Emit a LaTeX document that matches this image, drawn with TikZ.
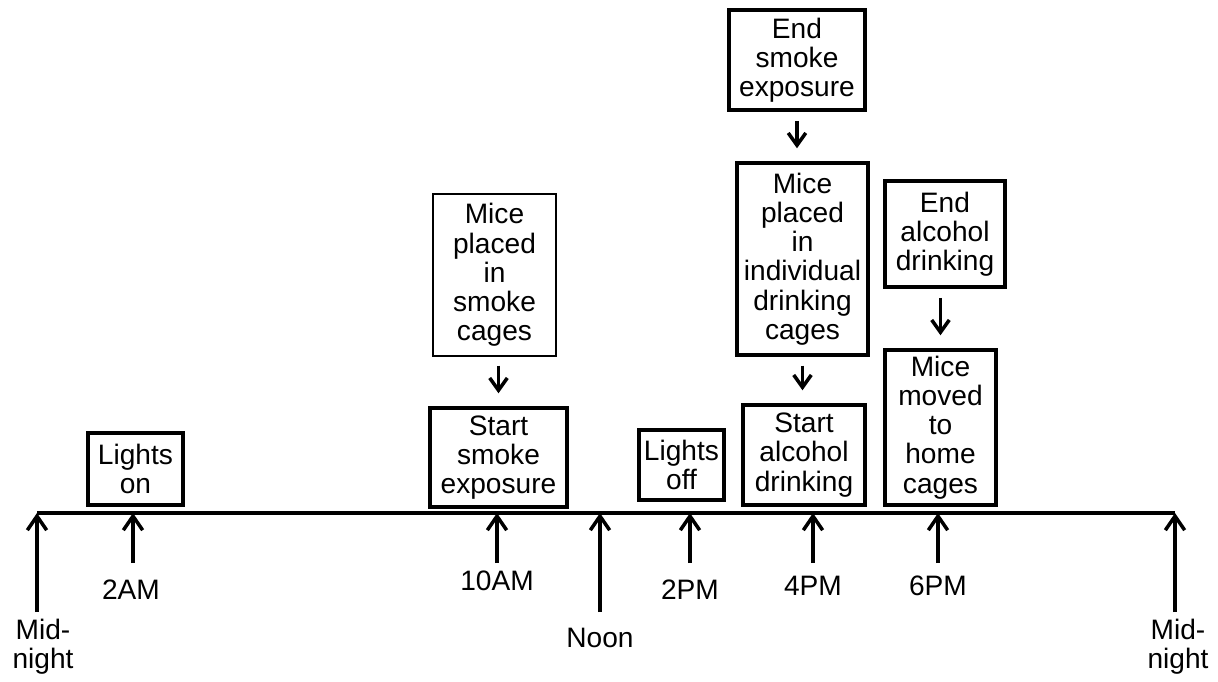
\documentclass[tikz,border=0pt]{standalone}
\usepackage{fontspec}
\setmainfont{Liberation Sans}
\usetikzlibrary{arrows.meta, positioning}

\begin{document}
\begin{tikzpicture}[x=0.02cm, y=-0.02cm,
          evt/.style={rectangle, draw=black, line width=2pt, align=center,
                      inner sep=1pt, font=\fontsize{16pt}{16.6pt}\selectfont},
          lbl/.style={align=center, inner sep=1pt,
                      font=\fontsize{16pt}{16.6pt}\selectfont},
          tick/.style={line width=2pt,
                       -{Straight Barb[length=8pt, width=11pt, line width=2pt]}},
          link/.style={line width=2pt, shorten <=0.18cm, shorten >=0.26cm,
                       -{Straight Barb[length=7pt, width=10pt, line width=2pt]}}
        ]
        \useasboundingbox (0,0) rectangle (1218,681);

        % Time axis
        \coordinate (a0)  at (37, 513);
        \coordinate (a2)  at (133, 513);
        \coordinate (a10) at (497, 513);
        \coordinate (a12) at (600, 513);
        \coordinate (a14) at (690, 513);
        \coordinate (a16) at (813, 513);
        \coordinate (a18) at (938, 513);
        \coordinate (a24) at (1175, 513);
        \draw[line width=2pt] (a0) -- (a24);

        % Tick feet
        \coordinate (b0)  at (37, 612);
        \coordinate (b2)  at (133, 563);
        \coordinate (b10) at (497, 563);
        \coordinate (b12) at (600, 612);
        \coordinate (b14) at (690, 563);
        \coordinate (b16) at (813, 563);
        \coordinate (b18) at (938, 563);
        \coordinate (b24) at (1175, 612);
        \foreach \t in {0, 2, 10, 12, 14, 16, 18, 24}
          \draw[tick] (b\t) -- (a\t);

        % Time labels
        \node[lbl] (l0)  at (43, 647)   {Mid-\\night};
        \node[lbl] (l2)  at (131, 590)  {2AM};
        \node[lbl] (l10) at (497, 581)  {10AM};
        \node[lbl] (l12) at (600, 638)  {Noon};
        \node[lbl] (l14) at (690, 590)  {2PM};
        \node[lbl] (l16) at (813, 586)  {4PM};
        \node[lbl] (l18) at (938, 586)  {6PM};
        \node[lbl] (l24) at (1178, 647) {Mid-\\night};

        % Light cycle
        \node[evt, minimum width=1.9cm, minimum height=1.44cm] (on)
              at (135.5, 469) {Lights\\on};
        \node[evt, minimum width=1.7cm, minimum height=1.4cm] (off)
              at (681.5, 465) {Lights\\off};

        % Smoke exposure
        \node[evt, line width=0.7pt, minimum width=2.46cm, minimum height=3.24cm]
              (smkcg) at (494.5, 275) {Mice\\placed\\in\\smoke\\cages};
        \node[evt, minimum width=2.74cm, minimum height=1.98cm] (smkst)
              at (498.5, 457.5) {Start\\smoke\\exposure};
        \node[evt, minimum width=2.72cm, minimum height=2.0cm] (smkend)
              at (797, 60) {End\\smoke\\exposure};

        % Alcohol drinking
        \node[evt, minimum width=2.62cm, minimum height=3.84cm] (drkcg)
              at (802.5, 259) {Mice\\placed\\in\\individual\\drinking\\cages};
        \node[evt, minimum width=2.44cm, minimum height=2.0cm] (drkst)
              at (804, 455) {Start\\alcohol\\drinking};
        \node[evt, minimum width=2.4cm, minimum height=2.12cm] (drkend)
              at (945, 234) {End\\alcohol\\drinking};
        \node[evt, minimum width=2.22cm, minimum height=3.1cm] (home)
              at (940.5, 427.5) {Mice\\moved\\to\\home\\cages};

        % Links
        \draw[link] (smkst.north |- smkcg.south) -- (smkst.north);
        \draw[link] (smkend.south) -- (smkend.south |- drkcg.north);
        \draw[link] (drkcg.south) -- (drkcg.south |- drkst.north);
        \draw[link] (home.north |- drkend.south) -- (home.north);
      \end{tikzpicture}
\end{document}
